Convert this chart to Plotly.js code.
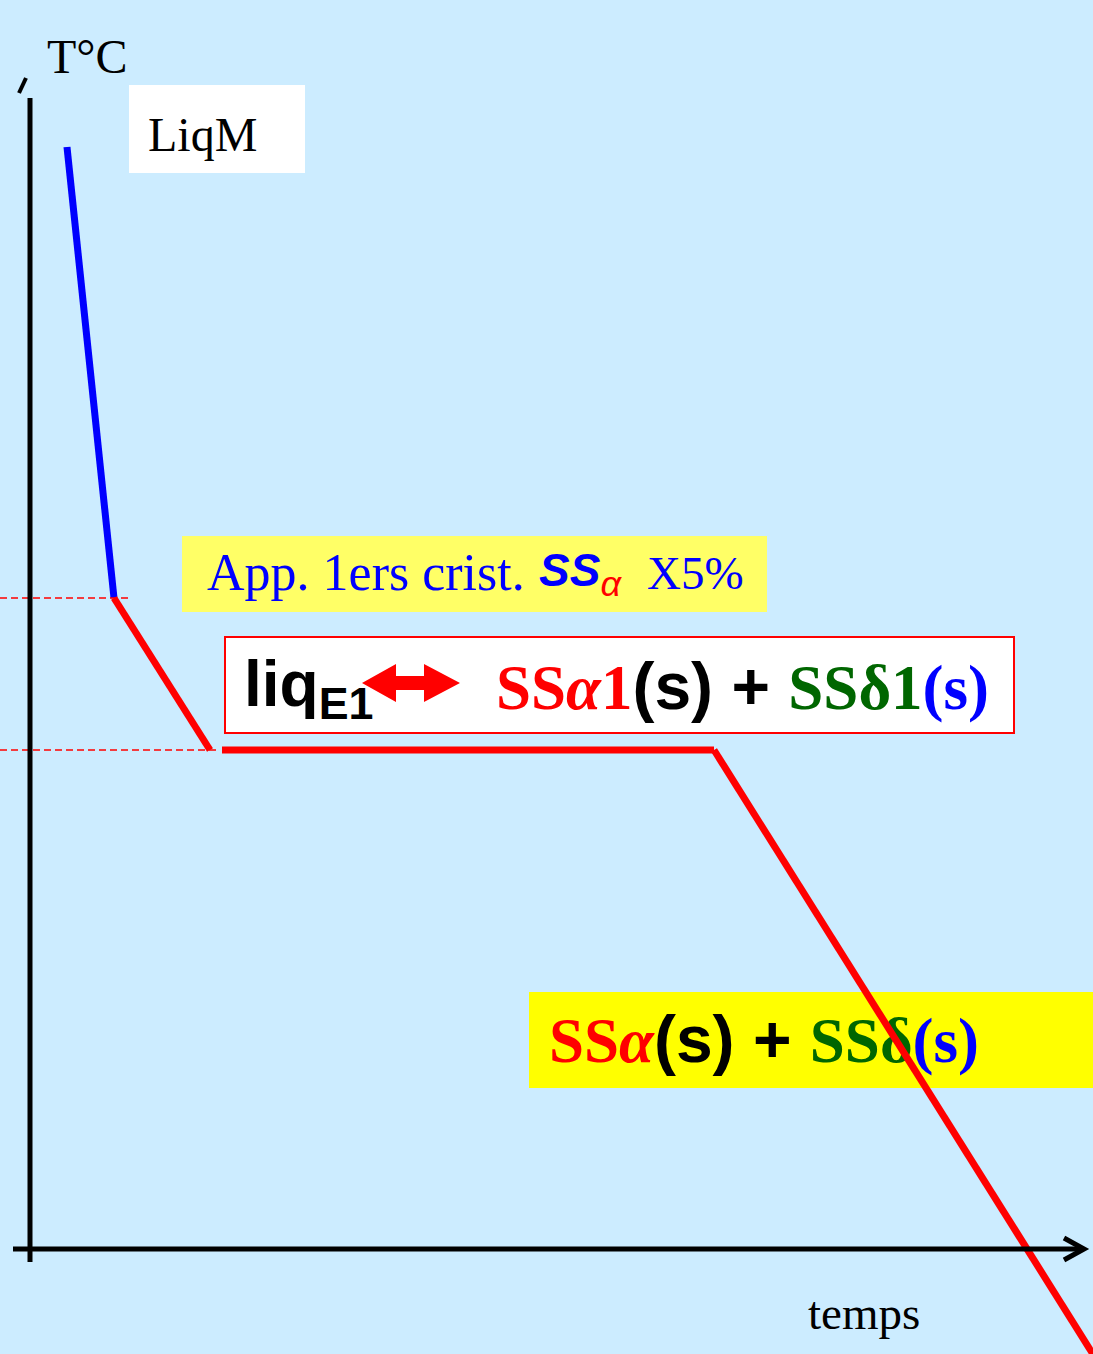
<!DOCTYPE html>
<html>
<head>
<meta charset="utf-8">
<script src="https://cdn.plot.ly/plotly-3.0.1.min.js"></script>
<style>html,body{margin:0;padding:0;background:#CCECFF;}#chart{width:1093px;height:1354px;}</style>
</head>
<body>
<div id="chart"></div>
<script>
// ---- data (time in arbitrary units, temperature in arbitrary units) ----
const liquidTime = [3.7, 8.4];
const liquidTemp = [110.2, 65.1];
const primaryTime = [8.4, 18.0];
const primaryTemp = [65.1, 49.9];
const eutecticTime = [19.2, 68.4];
const eutecticTemp = [49.9, 49.9];
const solidTime = [68.4, 106.6];
const solidTemp = [49.9, -11.0];
const liquidusTemp = 65.1;
const eutecticLevel = 49.9;
const axisLabels = ["T°C", "temps"];

const W = 1093, H = 1354;
const PX = x => x / W;            // pixel -> paper x
const PY = y => 1 - y / H;        // pixel -> paper y
const TX = x => (x - 30) / 10;    // pixel -> data x
const TY = y => (1249 - y) / 10;  // pixel -> data y

const SERIF = "Liberation Serif, Times New Roman, serif";
const SANS = "Liberation Sans, Arial, sans-serif";
const RED = "#FF0000", BLUE = "#0000FF", GREEN = "#006600";

const sp = (fam, col, size, txt) =>
  `<span style="font-family:${fam};color:${col};font-size:${size}px">${txt}</span>`;

const bigText =
  `<b>${sp(SERIF, RED, 63, "SS<i>α</i>")}` +
  `${sp(SANS, "#000", 66, "(s) + ")}` +
  `${sp(SERIF, GREEN, 63, "SSδ")}` +
  `${sp(SERIF, BLUE, 63, "(s)")}</b>`;

const eqText =
  `<b>${sp(SERIF, RED, 63, "SS<i>α</i>1")}` +
  `${sp(SANS, "#000", 66, "(s) + ")}` +
  `${sp(SERIF, GREEN, 63, "SSδ1")}` +
  `${sp(SERIF, BLUE, 63, "(s)")}</b>`;

const traces = [
  {x: liquidTime, y: liquidTemp, mode: "lines", line: {color: BLUE, width: 7}, hoverinfo: "skip"},
  {x: primaryTime, y: primaryTemp, mode: "lines", line: {color: RED, width: 7}, hoverinfo: "skip"},
  {x: eutecticTime, y: eutecticTemp, mode: "lines", line: {color: RED, width: 7}, hoverinfo: "skip"},
  // label of final solid state drawn under the last cooling segment
  {x: [TX(549)], y: [TY(1046)], mode: "text", text: [bigText], textposition: "middle right",
   textfont: {family: SERIF, size: 63, color: "#000"}, hoverinfo: "skip"},
  {x: solidTime, y: solidTemp, mode: "lines", line: {color: RED, width: 7}, hoverinfo: "skip"}
];

const rect = (x0, y0, x1, y1, fill, line) => ({
  type: "rect", xref: "paper", yref: "paper", layer: "below",
  x0: PX(x0), x1: PX(x1), y0: PY(y1), y1: PY(y0),
  fillcolor: fill, line: line || {width: 0}
});

const arrowPts = [[362,683],[396,664],[396,676],[424,676],[424,664],[460,683],[424,702],[424,690],[396,690],[396,702]];
const arrowPath = "M " + arrowPts.map(p => PX(p[0]).toFixed(5) + "," + PY(p[1]).toFixed(5)).join(" L ") + " Z";

const shapes = [
  rect(129, 85, 305, 173, "#FFFFFF"),
  rect(182, 536, 767, 612, "#FFFF66"),
  rect(225, 637, 1014, 733, "#FFFFFF", {color: RED, width: 2}),
  rect(529, 992, 1093, 1088, "#FFFF00"),
  // dashed reference levels
  {type: "line", xref: "x", yref: "y", x0: TX(0), x1: TX(130), y0: liquidusTemp, y1: liquidusTemp,
   line: {color: RED, width: 1.5, dash: "7px,4px"}},
  {type: "line", xref: "x", yref: "y", x0: TX(0), x1: TX(216), y0: eutecticLevel, y1: eutecticLevel,
   line: {color: RED, width: 1.5, dash: "7px,4px"}},
  // axes
  {type: "line", xref: "x", yref: "y", x0: 0, x1: 0, y0: TY(1262), y1: TY(98), line: {color: "#000", width: 5}},
  {type: "line", xref: "x", yref: "y", x0: TX(13), x1: TX(1084), y0: 0, y1: 0, line: {color: "#000", width: 5}},
  {type: "path", xref: "x", yref: "y",
   path: `M ${TX(1064)},${TY(1238)} L ${TX(1084)},${TY(1249)} L ${TX(1064)},${TY(1260)}`,
   line: {color: "#000", width: 5}},
  {type: "line", xref: "x", yref: "y", x0: TX(19), x1: TX(26), y0: TY(93), y1: TY(78), line: {color: "#000", width: 4}},
  // double arrow in equation box
  {type: "path", xref: "paper", yref: "paper", path: arrowPath, fillcolor: RED, line: {width: 0}, layer: "above"}
];

const ann = (x, y, text, font) => ({
  xref: "paper", yref: "paper", x: PX(x), y: PY(y), xanchor: "left", yanchor: "middle",
  text: text, showarrow: false, font: font, borderpad: 0
});

const annotations = [
  ann(46, 57, axisLabels[0], {family: SERIF, size: 48, color: "#000"}),
  ann(147, 134, "LiqM", {family: SERIF, size: 48, color: "#000"}),
  ann(206, 573, "App. 1ers crist.", {family: SERIF, size: 52, color: BLUE}),
  ann(538, 574, `<b><i>${sp(SANS, BLUE, 46, "SS")}</i></b><sub><i>${sp(SANS, RED, 36, "α")}</i></sub>`,
      {family: SANS, size: 46, color: BLUE}),
  ann(646, 573, "X5%", {family: SERIF, size: 47, color: BLUE}),
  ann(243, 688, `<b>liq<sub>E1</sub></b>`, {family: SANS, size: 64, color: "#000"}),
  ann(495, 686, eqText, {family: SERIF, size: 63, color: "#000"}),
  ann(807, 1313, axisLabels[1], {family: SERIF, size: 47, color: "#000"})
];

const layout = {
  width: W, height: H,
  margin: {l: 0, r: 0, t: 0, b: 0, pad: 0},
  paper_bgcolor: "#CCECFF", plot_bgcolor: "rgba(0,0,0,0)",
  showlegend: false,
  xaxis: {range: [TX(0), TX(W)], visible: false, fixedrange: true},
  yaxis: {range: [TY(H), TY(0)], visible: false, fixedrange: true},
  shapes: shapes, annotations: annotations
};

Plotly.newPlot("chart", traces, layout, {staticPlot: true, displayModeBar: false});
</script>
</body>
</html>
